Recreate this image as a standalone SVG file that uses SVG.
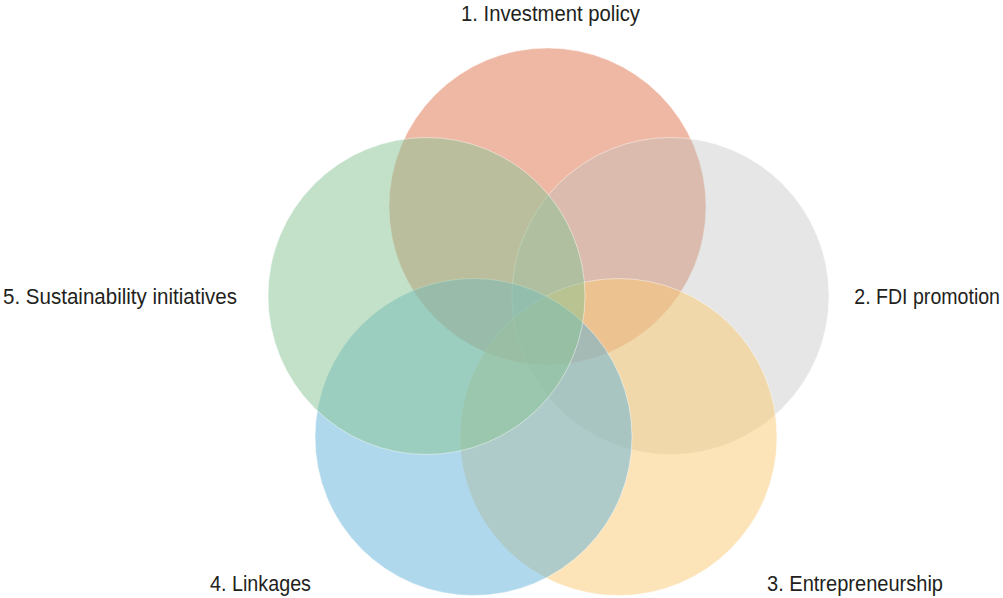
<svg xmlns="http://www.w3.org/2000/svg" width="1003" height="598" viewBox="0 0 1003 598">
<style>
.c{stroke:#ffffff;stroke-opacity:0.45;stroke-width:1}
.t{font-family:"Liberation Sans",Arial,sans-serif;font-size:22px;fill:#231f20}
</style>
<rect width="1003" height="598" fill="#ffffff"/>
<g id="n1"><circle class="c" cx="547.5" cy="206.5" r="158.5" fill="#df7149" fill-opacity="0.5"/></g>
<g id="n2"><circle class="c" cx="670.5" cy="296" r="158.5" fill="#bec0be" fill-opacity="0.4"/></g>
<g id="n3"><circle class="c" cx="618.5" cy="437" r="158.5" fill="#fbc971" fill-opacity="0.5"/></g>
<g id="n4"><circle class="c" cx="473.5" cy="437" r="158.5" fill="#61b1d9" fill-opacity="0.5"/></g>
<g id="n5"><circle class="c" cx="426.5" cy="296" r="158.5" fill="#87c393" fill-opacity="0.5"/></g>
<g id="labels">
<text class="t" x="461" y="21" textLength="179" lengthAdjust="spacingAndGlyphs">1. Investment policy</text>
<text class="t" transform="translate(1000,304) scale(0.89,1)" text-anchor="end">2. FDI promotion</text>
<text class="t" x="767" y="591" textLength="176" lengthAdjust="spacingAndGlyphs">3. Entrepreneurship</text>
<text class="t" x="210" y="591" textLength="101" lengthAdjust="spacingAndGlyphs">4. Linkages</text>
<text class="t" x="3" y="304" textLength="234" lengthAdjust="spacingAndGlyphs">5. Sustainability initiatives</text>
</g>
<g id="connectors"></g>
</svg>
